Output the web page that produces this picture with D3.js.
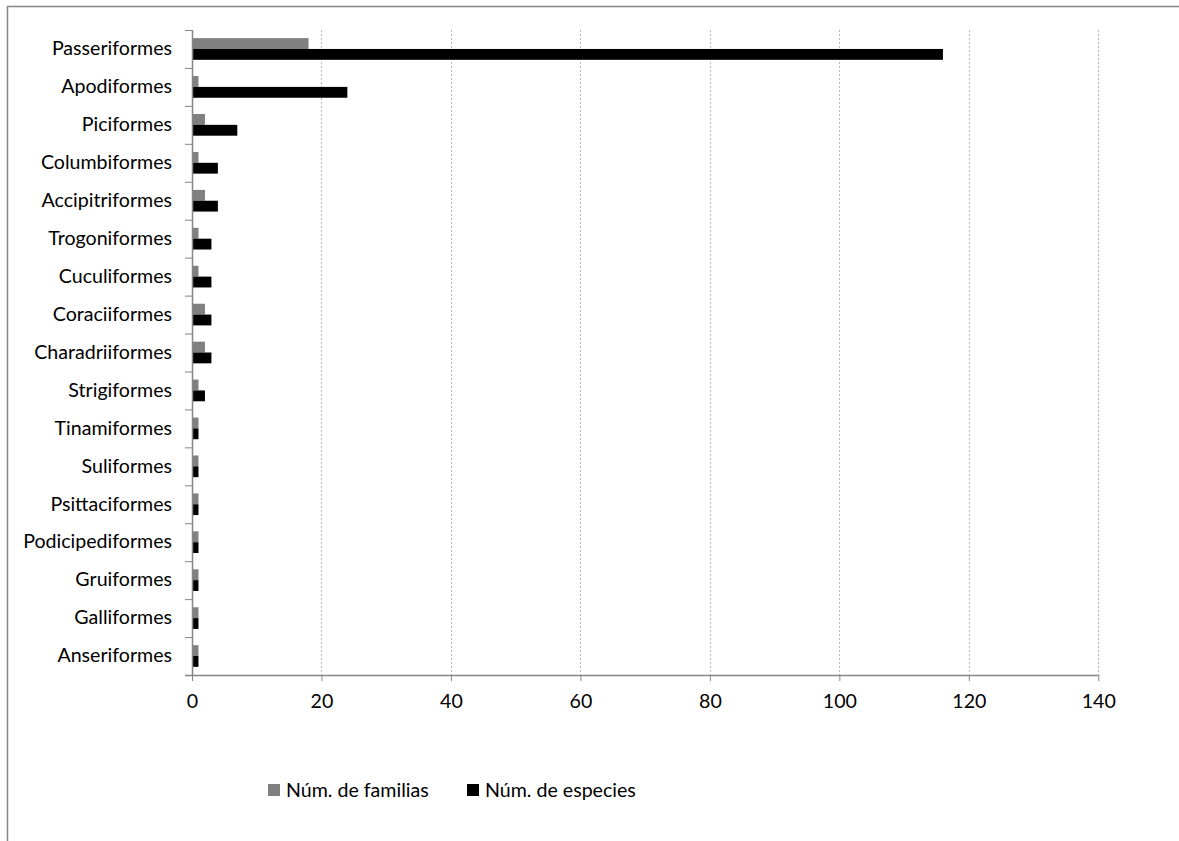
<!DOCTYPE html>
<html><head><meta charset="utf-8">
<script src="https://cdn.jsdelivr.net/npm/d3@7"></script>
<style>body{margin:0;background:#fff}svg{display:block}</style>
</head><body>
<script>
const categories = ["Passeriformes","Apodiformes","Piciformes","Columbiformes","Accipitriformes","Trogoniformes","Cuculiformes","Coraciiformes","Charadriiformes","Strigiformes","Tinamiformes","Suliformes","Psittaciformes","Podicipediformes","Gruiformes","Galliformes","Anseriformes"];
const familias = [18,1,2,1,2,1,1,2,2,1,1,1,1,1,1,1,1];
const especies = [116,24,7,4,4,3,3,3,3,2,1,1,1,1,1,1,1];
const seriesNames = ["Núm. de familias","Núm. de especies"];
const xTicks = [0,20,40,60,80,100,120,140];

const W=1179,H=841;
const svg=d3.select("body").append("svg").attr("width",W).attr("height",H);
const font="Lato, 'Open Sans', sans-serif";
const fs=19.6;

svg.append("path").attr("d",`M7.5,${H} V6.5 H${W}`).attr("fill","none").attr("stroke","#868686").attr("stroke-width",1.5);

const mLeft=192, mRight=1098.3, mTop=30, mBottom=675;
const x=d3.scaleLinear().domain([0,140]).range([mLeft,mRight]);
const y=d3.scaleBand().domain(categories).range([mTop,mBottom]);
const inner=d3.scaleBand().domain(seriesNames).range([0,y.bandwidth()]).paddingInner(0).paddingOuter(0.75);

svg.append("g").selectAll("line").data(xTicks.slice(1)).join("line")
  .attr("x1",d=>Math.round(x(d))+0.5).attr("x2",d=>Math.round(x(d))+0.5)
  .attr("y1",mTop).attr("y2",mBottom)
  .attr("stroke","#b8b8b8").attr("stroke-dasharray","2,2").attr("stroke-width",1);

const data=[familias,especies];
const colors=["#808080","#000000"];
data.forEach((vals,si)=>{
  svg.append("g").selectAll("rect").data(categories).join("rect")
    .attr("x",x(0)).attr("y",(d)=>y(d)+inner(seriesNames[si]))
    .attr("width",(d,i)=>x(vals[i])-x(0)).attr("height",inner.bandwidth())
    .attr("fill",colors[si]);
});

const xa=svg.append("g").attr("transform",`translate(0,${mBottom})`)
  .call(d3.axisBottom(x).tickValues(xTicks).tickSize(6).tickSizeOuter(0).tickPadding(13));
xa.select(".domain").attr("stroke","#868686").attr("stroke-width",1.5).attr("d",`M${mLeft-7},0.5H${mRight}`);
xa.selectAll(".tick line").attr("stroke","#868686");
xa.selectAll(".tick text").attr("font-family",font).attr("font-size",fs).attr("fill","#000");

const ya=svg.append("g").attr("transform",`translate(${mLeft},0)`)
  .call(d3.axisLeft(y).tickSize(0).tickPadding(20));
ya.select(".domain").attr("stroke","#868686").attr("stroke-width",1.5).attr("d",`M0.5,${mTop}V${mBottom}`);
ya.selectAll(".tick text").attr("font-family",font).attr("font-size",fs).attr("fill","#000");
svg.append("g").selectAll("line").data(categories).join("line")
  .attr("x1",mLeft-7).attr("x2",mLeft).attr("y1",d=>y(d)+0.5).attr("y2",d=>y(d)+0.5)
  .attr("stroke","#868686").attr("stroke-width",1);

const leg=svg.append("g");
const legX=[268,467];
seriesNames.forEach((n,i)=>{
  leg.append("rect").attr("x",legX[i]).attr("y",784).attr("width",12).attr("height",12).attr("fill",colors[i]);
  leg.append("text").attr("x",legX[i]+18).attr("y",790).attr("dy","0.35em")
    .attr("font-family",font).attr("font-size",fs).text(n);
});
</script>
</body></html>
